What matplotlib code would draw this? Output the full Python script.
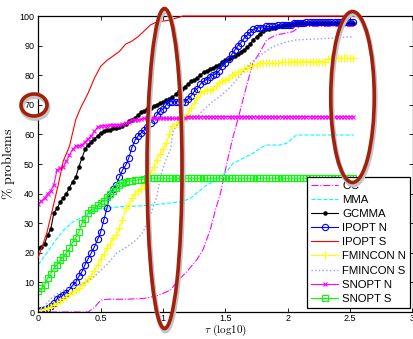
import numpy as np
import matplotlib
matplotlib.use("Agg")
import matplotlib.pyplot as plt
from matplotlib.patches import Ellipse

plt.rcParams["font.family"] = ["Liberation Sans", "DejaVu Sans"]
plt.rcParams["mathtext.fontset"] = "cm"

# shared tau sampling of the profiles drawn with markers (step 0.025, 0 .. 2.525)
tau_grid = np.arange(102) * 0.025

gcmma = [21.5, 22, 23, 26, 28, 33.5, 35, 37, 38.5, 40,
         42, 44, 45.5, 49, 52, 55, 56.5, 57.5, 58.5, 59.5,
         60.5, 61, 61.5, 61.5, 62, 62, 62.5, 63, 63.5, 64.5,
         65, 65.5, 66.5, 67.5, 68, 68.5, 69, 69.5, 70, 70.5,
         71, 71.5, 72, 72.5, 73.5, 74.5, 75.5, 76, 77, 78,
         78.5, 79, 80, 81, 81.5, 82, 82.5, 83, 83.5, 84.5,
         85, 85.5, 86, 86.5, 87, 88, 88.5, 89.5, 90.5, 92,
         93, 94, 95, 95.5, 95.5, 96, 96, 96.5, 96.5, 97,
         97, 97, 97.5, 97.5, 97.5, 97.5, 97.5, 97.5, 97.5, 97.5,
         97.5, 97.5, 97.5, 97.5, 97.5, 97.5, 97.5, 97.5, 97.5, 97.5,
         97.5, 97.5]

ipopt_n = [0.5, 0.8, 1, 1.5, 2, 3, 4.5, 5, 5.7, 6.5,
           7.5, 9, 10, 12, 13.6, 16, 18, 20, 22, 24.5,
           27, 31, 35, 40, 41.5, 43, 45.5, 48, 49.5, 52,
           55.5, 58, 59.5, 60.5, 61.5, 62.5, 64, 65, 66.5, 68,
           68.5, 70, 71, 71, 71, 71, 71, 71, 72, 73,
           74.5, 75.5, 77, 78, 78.5, 79.5, 80, 80.5, 81.5, 83,
           84, 85.5, 87, 88.5, 90, 91, 92.5, 93.5, 94.5, 95.5,
           96, 96, 96, 96.5, 96.5, 96.5, 96.5, 97, 97, 97,
           97, 97, 97.5, 97.5, 97.5, 97.5, 98, 98, 98, 98,
           98, 98, 98, 98, 98, 98, 98, 98, 98, 98,
           98, 98]

fmincon_n = [0.6, 0.8, 1, 1.2, 1.8, 2.5, 3, 3.8, 4.5, 5.2,
             6, 6.8, 7.5, 8, 9, 10, 11, 12, 14, 16,
             18, 19.5, 21.5, 23, 25, 26, 28.5, 31, 35, 36,
             38.5, 40, 41, 41.5, 43, 44.5, 47, 49, 51.5, 53.5,
             55, 57, 60, 63, 63.5, 64, 64.5, 66, 67, 69,
             70.5, 72.5, 74, 74.5, 75, 75, 75.5, 76.5, 77.5, 78,
             78.5, 79, 80, 80.5, 81, 81.5, 82, 82.5, 83, 83.3,
             83.5, 84, 84, 84, 84, 84, 84, 84, 84.3, 84.3,
             84.3, 84.6, 84.6, 84.6, 84.6, 84.6, 84.6, 84.6, 84.6, 84.6,
             84.6, 84.6, 84.6, 85.5, 85.7, 85.7, 85.7, 85.7, 85.7, 85.7,
             85.7, 85.7]

snopt_n = [36.5, 37.5, 38.5, 40, 41, 43, 48, 48.5, 49, 51,
           53, 55, 56, 56, 56.5, 57.5, 58.5, 59.5, 61, 62.5,
           62.8, 63, 63, 63.2, 63.2, 63.2, 63.2, 63.5, 64, 64.3,
           64.8, 65, 65, 65.2, 65.4, 65.4, 65.4, 65.4, 65.4, 65.4,
           65.4, 65.4, 65.4, 65.4, 65.4, 65.4, 65.4, 65.4, 66, 66,
           66, 66, 66, 66, 66, 66, 66, 66, 66, 66,
           66, 66, 66, 66, 66, 66, 66, 66, 66, 66,
           66, 66, 66, 66, 66, 66, 66, 66, 66, 66,
           66, 66, 66, 66, 66, 66, 66, 66, 66, 66,
           66, 66, 66, 66, 66, 66, 66, 66, 66, 66,
           66, 66]

snopt_s = [7, 8, 9, 11.5, 13, 14.8, 16, 17.5, 18.5, 20,
           21.5, 23.5, 25, 27, 30, 31.5, 33.3, 34.5, 35, 36,
           36.7, 37.5, 39, 40, 41, 42, 43, 43.5, 44, 44.2,
           44.3, 44.6, 44.6, 44.7, 45, 45.2, 45.2, 45.2, 45.2, 45.2,
           45.2, 45.2, 45.2, 45.2, 45.2, 45.2, 45.2, 45.2, 45.2, 45.2,
           45.2, 45.2, 45.2, 45.2, 45.2, 45.2, 45.2, 45.2, 45.2, 45.2,
           45.2, 45.2, 45.2, 45.2, 45.2, 45.2, 45.2, 45.2, 45.2, 45.2,
           45.2, 45.2, 45.2, 45.2, 45.2, 45.2, 45.2, 45.2, 45.2, 45.2,
           45.2, 45.2, 45.2, 45.2, 45.2, 45.2, 45.2, 45.2, 45.2, 45.2,
           45.2, 45.2, 45.2, 45.2, 45.2, 45.2, 45.2, 45.2, 45.2, 45.2,
           45.2, 45.2]

# line-only profiles, read at their breakpoints
oc_tau = [0, 0.4, 0.45, 0.5, 0.55, 0.7, 0.85, 0.95, 1.0, 1.06, 1.11, 1.19, 1.27, 1.32,
          1.38, 1.42, 1.46, 1.51, 1.56, 1.6, 1.64, 1.68, 1.72, 1.78, 1.83, 1.9, 1.97,
          2.04, 2.1, 2.53]
oc_pct = [0, 0, 1.5, 4, 4.3, 4.3, 4.6, 5.5, 6.3, 7.4, 10.2, 13.6, 17.6, 21,
          28, 34.5, 40, 50, 59, 65, 71.6, 78, 84, 88, 91.9, 93.5, 94.1,
          94.7, 96.5, 96.5]

mma_tau = [0, 0.06, 0.14, 0.2, 0.28, 0.36, 0.44, 0.55, 0.66, 0.8, 0.9, 1.03, 1.15, 1.22,
           1.3, 1.35, 1.4, 1.51, 1.56, 1.62, 1.72, 1.82, 1.94, 1.99, 2.07, 2.53]
mma_pct = [16, 19.5, 24.3, 27.5, 30.5, 32.2, 34.5, 35, 35.6, 35.8, 36.1, 36.7, 37.3, 38.4,
           41.2, 42.9, 44, 47.4, 50.2, 51.5, 53.6, 56.4, 56.4, 57, 59.8, 59.8]

ipopt_s_tau = [0, 0.03, 0.07, 0.11, 0.16, 0.2, 0.25, 0.3, 0.34, 0.4, 0.45, 0.5, 0.55, 0.6,
               0.65, 0.7, 0.75, 0.8, 0.85, 0.9, 0.95, 1.05, 1.16, 2.53]
ipopt_s_pct = [18.5, 22, 27, 34, 43, 51, 56, 65, 69, 74, 79, 83, 85, 86.5,
               88, 90.5, 91.5, 93, 95, 97, 98, 98.6, 100, 100]

fmincon_s_tau = [0, 0.05, 0.1, 0.15, 0.25, 0.36, 0.45, 0.55, 0.63, 0.71, 0.79, 0.84, 0.9,
                 0.95, 0.98, 1.02, 1.06, 1.08, 1.14, 1.27, 1.38, 1.46, 1.54, 1.62, 1.7,
                 1.8, 1.88, 1.99, 2.07, 2.34, 2.53]
fmincon_s_pct = [0, 2, 4.5, 6, 8.6, 9.5, 12, 16, 20, 22, 24.5, 27, 33,
                 39, 46, 51, 55, 61, 65, 66, 70.5, 73, 76, 80, 84,
                 87.4, 89.6, 91.3, 91.9, 92.5, 93]

x_ticks = [0, 0.5, 1, 1.5, 2, 2.5, 3]
x_tick_labels = ["0", "0.5", "1", "1.5", "2", "2.5", "3"]
y_ticks = [0, 10, 20, 30, 40, 50, 60, 70, 80, 90, 100]

W, H = 413, 339
fig = plt.figure(figsize=(W / 100, H / 100), dpi=100)
ax = fig.add_axes([38.3 / W, 1 - 312 / H, (412.5 - 38.3) / W, (312 - 16) / H])

lw = 0.8
ax.plot(oc_tau, oc_pct, color="#ff00ff", ls="-.", lw=lw, label="OC")
ax.plot(mma_tau, mma_pct, color="#00ffff", ls="--", lw=lw, label="MMA")
ax.plot(tau_grid, gcmma, color="black", lw=lw, marker=".", ms=4.5, label="GCMMA")
ax.plot(tau_grid, ipopt_n, color="#0000ff", lw=lw, marker="o", ms=4.5, mfc="none",
        mew=0.8, label="IPOPT N")
ax.plot(ipopt_s_tau, ipopt_s_pct, color="#ff0000", lw=lw, label="IPOPT S",
        clip_on=False, zorder=3)
ax.plot(tau_grid, fmincon_n, color="#ffff00", lw=lw, marker="+", ms=5.5, mew=0.8,
        label="FMINCON N")
ax.plot(fmincon_s_tau, fmincon_s_pct, color="#9a9aff", ls=":", lw=1.0, label="FMINCON S")
ax.plot(tau_grid, snopt_n, color="#ff00ff", lw=lw, marker="x", ms=3.5, mew=0.8,
        label="SNOPT N")
ax.plot(tau_grid, snopt_s, color="#00ff00", lw=lw, marker="s", ms=4.5, mfc="none",
        mew=0.8, label="SNOPT S")

ax.set_xlim(0, 3)
ax.set_ylim(0, 100)
ax.set_xticks(x_ticks)
ax.set_xticklabels(x_tick_labels)
ax.set_yticks(y_ticks)
ax.tick_params(direction="in", length=3, width=0.6, labelsize=6.5, top=True, right=True)
ax.tick_params(axis="x", pad=1.5)
ax.tick_params(axis="y", pad=3)
for s in ax.spines.values():
    s.set_linewidth(0.9)

# bottom of the x label sits just inside the lower edge of the picture
ax.set_xlabel(r"$\tau\ \mathrm{(log10)}$", fontsize=8, va="bottom")
ax.xaxis.set_label_coords(0.5, -(338 - 312) / 296)
ax.set_ylabel(r"$\%\ \mathrm{problems}$", fontsize=10)
ax.yaxis.set_label_coords(-0.058, 0.5)

leg = ax.legend(loc="upper left", bbox_to_anchor=(307 / W, 1 - 177 / H),
                bbox_transform=fig.transFigure, borderaxespad=0, fontsize=8.2,
                labelspacing=0.36, handlelength=2.4, handletextpad=0.35,
                borderpad=0.35, fancybox=False, framealpha=1)
leg.get_frame().set_edgecolor("black")
leg.get_frame().set_linewidth(0.9)


# hand-drawn red rings, given in pixel coordinates of the picture
def ring(cx, cy, w, h):
    for dx, dy, col, width in [(1, 2.5, "#c4c4c4", 3.5), (0, 0, "#a3200c", 2.6)]:
        fig.add_artist(Ellipse(((cx + dx) / W, 1 - (cy + dy) / H), w / W, h / H,
                               transform=fig.transFigure, fill=False,
                               edgecolor=col, lw=width, zorder=10))


ring(164.5, 168.5, 35, 320)
ring(34, 105, 26, 22)
ring(352.5, 97, 43.5, 171)

fig.savefig("out.png", dpi=100)
